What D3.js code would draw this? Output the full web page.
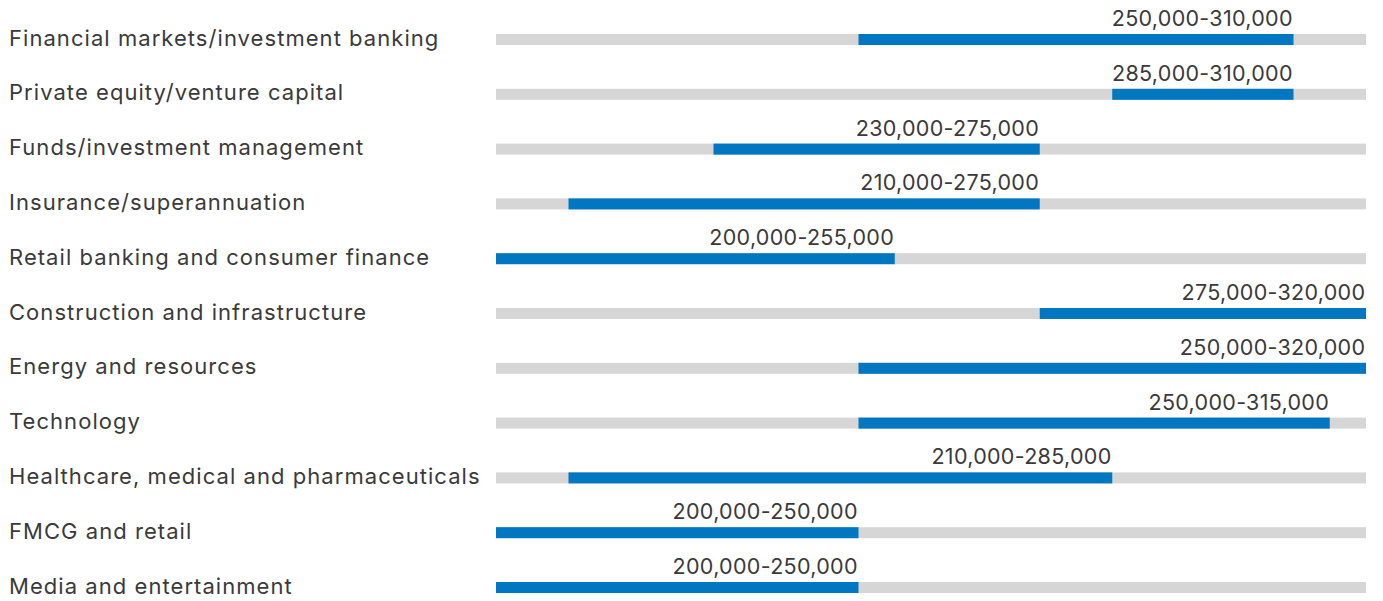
<!DOCTYPE html>
<html>
<head>
<meta charset="utf-8">
<script src="https://cdn.jsdelivr.net/npm/d3@7"></script>
<style>
  html, body { margin: 0; padding: 0; background: #fff; }
  svg { display: block; font-family: Inter, "Noto Sans", sans-serif; }
</style>
</head>
<body>
<div class="chart-wrapper"></div>
<script>
// salary ranges by sector
const categories = [
    'Financial markets/investment banking',
    'Private equity/venture capital',
    'Funds/investment management',
    'Insurance/superannuation',
    'Retail banking and consumer finance',
    'Construction and infrastructure',
    'Energy and resources',
    'Technology',
    'Healthcare, medical and pharmaceuticals',
    'FMCG and retail',
    'Media and entertainment'
];
const lowValues = [250000, 285000, 230000, 210000, 200000, 275000, 250000, 250000, 210000, 200000, 200000];
const highValues = [310000, 310000, 275000, 275000, 255000, 320000, 320000, 315000, 285000, 250000, 250000];
const scaleDomain = [200000, 320000];

const data = categories.map((c, i) => ({name: c, low: lowValues[i], high: highValues[i]}));

const width = 1383, height = 601;
const margin = {top: 12, right: 17, bottom: 0, left: 496};

const x = d3.scaleLinear()
    .domain(scaleDomain)
    .range([margin.left, width - margin.right]);

const y = d3.scalePoint()
    .domain(categories)
    .range([39.5, 587.5]);

const barH = 11;
const fmt = d3.format(',');
const valSpacing = 0.3;

const svg = d3.select('.chart-wrapper')
    .append('svg')
    .attr('width', width)
    .attr('height', height);

const row = svg.selectAll('g.row')
    .data(data)
    .enter()
    .append('g')
    .attr('class', 'row')
    .attr('transform', d => `translate(0,${y(d.name)})`);

// category names
row.append('text')
    .attr('x', 9)
    .attr('y', 6)
    .attr('fill', '#3a3a3a')
    .attr('font-size', 22)
    .attr('font-weight', 400)
    .attr('letter-spacing', 1.05)
    .text(d => d.name);

// grey track over full scale
row.append('rect')
    .attr('x', x(scaleDomain[0]))
    .attr('y', -barH / 2)
    .attr('width', x(scaleDomain[1]) - x(scaleDomain[0]))
    .attr('height', barH)
    .attr('fill', '#d6d6d6');

// range bar
row.append('rect')
    .attr('x', d => x(d.low))
    .attr('y', -barH / 2)
    .attr('width', d => x(d.high) - x(d.low))
    .attr('height', barH)
    .attr('fill', '#0077c0');

// range label, right-aligned at bar end
row.append('text')
    .attr('x', d => x(d.high) - 1 + valSpacing)
    .attr('y', -13.5)
    .attr('text-anchor', 'end')
    .attr('fill', '#3a3a3a')
    .attr('font-size', 21.5)
    .attr('font-weight', 400)
    .attr('letter-spacing', valSpacing)
    .text(d => `${fmt(d.low)}-${fmt(d.high)}`);
</script>
</body>
</html>
